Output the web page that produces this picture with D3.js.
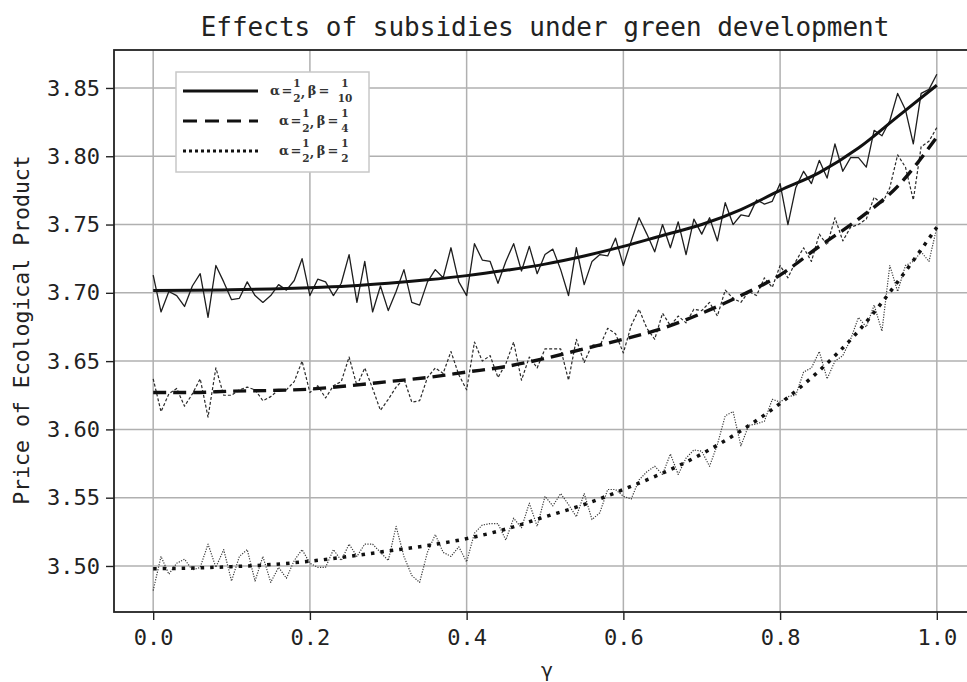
<!DOCTYPE html>
<html>
<head>
<meta charset="utf-8">
<script src="https://cdn.jsdelivr.net/npm/d3@7"></script>
<style>
    body { margin: 0; background: #fff; }
    .axis text { font-family: "DejaVu Sans Mono", monospace; font-size: 22px; fill: #222; }
    .axis line { stroke: #222; stroke-width: 1.4; }
    .axis path { display: none; }
</style>
</head>
<body>
<div id="chart"></div>
<script>
// smooth curves
const gammaSmooth = [0, 0.05, 0.1, 0.15, 0.2, 0.25, 0.3, 0.35, 0.4, 0.45, 0.5,
    0.55, 0.6, 0.65, 0.7, 0.75, 0.8, 0.85, 0.9, 0.95, 1.0];
const smoothB10 = [3.7017, 3.7018, 3.7022, 3.7028, 3.7037, 3.705, 3.707, 3.7095, 3.7126, 3.7165, 3.721,
    3.727, 3.734, 3.742, 3.750, 3.761, 3.775, 3.788, 3.806, 3.829, 3.852];
const smoothB4 = [3.627, 3.627, 3.628, 3.6285, 3.6295, 3.632, 3.635, 3.638, 3.642, 3.646, 3.652,
    3.659, 3.666, 3.674, 3.685, 3.698, 3.713, 3.734, 3.754, 3.778, 3.814];
const smoothB2 = [3.498, 3.4985, 3.4995, 3.501, 3.5035, 3.507, 3.511, 3.515, 3.520, 3.527, 3.536,
    3.545, 3.556, 3.568, 3.582, 3.599, 3.619, 3.643, 3.672, 3.708, 3.748];

// noisy simulations, gamma = 0, 0.01, ... 1.00
const noisyB10 = [3.713, 3.686, 3.701, 3.698, 3.690, 3.705, 3.714, 3.682, 3.720, 3.708,
    3.695, 3.696, 3.708, 3.698, 3.693, 3.698, 3.706, 3.702, 3.709, 3.725,
    3.698, 3.710, 3.708, 3.698, 3.707, 3.728, 3.693, 3.723, 3.686, 3.705,
    3.687, 3.701, 3.717, 3.693, 3.691, 3.708, 3.717, 3.711, 3.733, 3.708,
    3.698, 3.736, 3.724, 3.723, 3.707, 3.723, 3.736, 3.716, 3.734, 3.714,
    3.728, 3.732, 3.717, 3.698, 3.733, 3.706, 3.723, 3.728, 3.727, 3.740,
    3.720, 3.738, 3.755, 3.743, 3.730, 3.750, 3.733, 3.752, 3.728, 3.754,
    3.743, 3.755, 3.738, 3.766, 3.750, 3.757, 3.756, 3.768, 3.765, 3.767,
    3.780, 3.750, 3.777, 3.789, 3.780, 3.797, 3.784, 3.809, 3.789, 3.799,
    3.799, 3.792, 3.819, 3.815, 3.826, 3.846, 3.834, 3.809, 3.846, 3.849,
    3.860];
const noisyB4 = [3.637, 3.613, 3.626, 3.630, 3.617, 3.626, 3.637, 3.609, 3.645, 3.625,
    3.625, 3.629, 3.631, 3.629, 3.621, 3.624, 3.629, 3.629, 3.635, 3.650,
    3.627, 3.632, 3.623, 3.632, 3.635, 3.653, 3.632, 3.645, 3.630, 3.614,
    3.622, 3.631, 3.637, 3.620, 3.621, 3.638, 3.645, 3.641, 3.657, 3.640,
    3.629, 3.664, 3.650, 3.654, 3.638, 3.648, 3.664, 3.636, 3.653, 3.645,
    3.659, 3.659, 3.659, 3.636, 3.666, 3.649, 3.662, 3.661, 3.674, 3.670,
    3.656, 3.676, 3.688, 3.674, 3.666, 3.685, 3.676, 3.683, 3.678, 3.688,
    3.687, 3.693, 3.683, 3.702, 3.696, 3.693, 3.701, 3.698, 3.711, 3.704,
    3.720, 3.711, 3.723, 3.733, 3.723, 3.743, 3.735, 3.755, 3.738, 3.748,
    3.750, 3.754, 3.770, 3.765, 3.777, 3.801, 3.792, 3.768, 3.807, 3.811,
    3.821];
const noisyB2 = [3.482, 3.507, 3.494, 3.502, 3.505, 3.497, 3.499, 3.516, 3.499, 3.512,
    3.489, 3.507, 3.512, 3.489, 3.507, 3.488, 3.499, 3.491, 3.504, 3.512,
    3.502, 3.499, 3.499, 3.512, 3.504, 3.516, 3.507, 3.516, 3.516, 3.510,
    3.504, 3.529, 3.507, 3.493, 3.488, 3.510, 3.523, 3.510, 3.507, 3.514,
    3.503, 3.524, 3.530, 3.531, 3.531, 3.519, 3.535, 3.528, 3.546, 3.529,
    3.551, 3.544, 3.553, 3.545, 3.536, 3.553, 3.534, 3.539, 3.556, 3.556,
    3.551, 3.549, 3.563, 3.569, 3.573, 3.567, 3.582, 3.567, 3.579, 3.585,
    3.584, 3.573, 3.589, 3.610, 3.613, 3.588, 3.603, 3.604, 3.606, 3.622,
    3.620, 3.624, 3.625, 3.642, 3.645, 3.657, 3.637, 3.650, 3.654, 3.666,
    3.682, 3.675, 3.691, 3.672, 3.720, 3.701, 3.720, 3.723, 3.730, 3.723,
    3.748];
const gammaNoisy = d3.range(101).map(i => i / 100);

const xTicks = [0, 0.2, 0.4, 0.6, 0.8, 1.0];
const yTicks = [3.50, 3.55, 3.60, 3.65, 3.70, 3.75, 3.80, 3.85];

const legendRows = [
    {style: 'solid', beta: ['1', '10']},
    {style: 'dashed', beta: ['1', '4']},
    {style: 'dotted', beta: ['1', '2']}
];

const thickStyle = {
    solid: {dash: null, width: 3},
    dashed: {dash: '13,7', width: 3.4},
    dotted: {dash: '3.5,6', width: 3.5}
};
const thinStyle = {
    solid: {dash: null, width: 1.3, color: '#1e1e1e'},
    dashed: {dash: '3,2', width: 1.2, color: '#2a2a2a'},
    dotted: {dash: '1.2,1.4', width: 1.2, color: '#3a3a3a'}
};

const width = 967, height = 682;
const plot = {left: 114, right: 976, top: 50, bottom: 612};

const svg = d3.select('#chart').append('svg')
    .attr('width', width)
    .attr('height', height);

const x = d3.scaleLinear().domain([-0.05, 1.05]).range([plot.left, plot.right]);
const y = d3.scaleLinear().domain([3.4663, 3.8778]).range([plot.bottom, plot.top]);

svg.append('defs').append('clipPath')
    .attr('id', 'clip')
    .append('rect')
    .attr('x', plot.left)
    .attr('y', plot.top)
    .attr('width', plot.right - plot.left)
    .attr('height', plot.bottom - plot.top);

// grid
svg.append('g').selectAll('line.vg')
    .data(xTicks).enter().append('line')
    .attr('x1', d => x(d)).attr('x2', d => x(d))
    .attr('y1', plot.top).attr('y2', plot.bottom)
    .attr('stroke', '#b0b0b0').attr('stroke-width', 1.5);
svg.append('g').selectAll('line.hg')
    .data(yTicks).enter().append('line')
    .attr('x1', plot.left).attr('x2', plot.right)
    .attr('y1', d => y(d)).attr('y2', d => y(d))
    .attr('stroke', '#b0b0b0').attr('stroke-width', 1.5);

// lines
const lines = svg.append('g').attr('clip-path', 'url(#clip)');
const rough = d3.line().x((d, i) => x(gammaNoisy[i])).y(d => y(d));
const smooth = d3.line().x((d, i) => x(gammaSmooth[i])).y(d => y(d)).curve(d3.curveMonotoneX);

const series = [
    {style: 'solid', noisy: noisyB10, fit: smoothB10},
    {style: 'dashed', noisy: noisyB4, fit: smoothB4},
    {style: 'dotted', noisy: noisyB2, fit: smoothB2}
];

series.forEach(function (s) {
    let t = thinStyle[s.style];
    lines.append('path')
        .attr('d', rough(s.noisy))
        .attr('fill', 'none')
        .attr('stroke', t.color)
        .attr('stroke-width', t.width)
        .attr('stroke-dasharray', t.dash)
        .attr('stroke-linejoin', 'round');
});
series.forEach(function (s) {
    let t = thickStyle[s.style];
    lines.append('path')
        .attr('d', smooth(s.fit))
        .attr('fill', 'none')
        .attr('stroke', '#111')
        .attr('stroke-width', t.width)
        .attr('stroke-dasharray', t.dash);
});

// axes
svg.append('g')
    .attr('class', 'axis')
    .attr('transform', 'translate(' + plot.left + ',0)')
    .call(d3.axisLeft(y).tickValues(yTicks).tickSize(8).tickPadding(6).tickFormat(d3.format('.2f')));
svg.append('g')
    .attr('class', 'axis')
    .attr('transform', 'translate(0,' + plot.bottom + ')')
    .call(d3.axisBottom(x).tickValues(xTicks).tickSize(8).tickPadding(9).tickFormat(d3.format('.1f')));

// frame
svg.append('rect')
    .attr('x', plot.left).attr('y', plot.top)
    .attr('width', plot.right - plot.left).attr('height', plot.bottom - plot.top)
    .attr('fill', 'none').attr('stroke', '#222').attr('stroke-width', 1.8);

// title and labels
svg.append('text')
    .attr('x', (plot.left + plot.right) / 2).attr('y', 36)
    .attr('text-anchor', 'middle')
    .style('font-family', '"DejaVu Sans Mono", monospace')
    .style('font-size', '26px')
    .style('fill', '#222')
    .text('Effects of subsidies under green development');

svg.append('text')
    .attr('transform', 'translate(29,330) rotate(-90)')
    .attr('text-anchor', 'middle')
    .style('font-family', '"DejaVu Sans Mono", monospace')
    .style('font-size', '21.5px')
    .style('fill', '#222')
    .text('Price of Ecological Product');

svg.append('text')
    .attr('x', 547).attr('y', 677)
    .attr('text-anchor', 'middle')
    .style('font-family', '"DejaVu Sans", sans-serif')
    .style('font-size', '20px')
    .style('fill', '#222')
    .text('γ');

// legend
const legend = svg.append('g');
legend.append('rect')
    .attr('x', 176).attr('y', 72)
    .attr('width', 193).attr('height', 100)
    .attr('fill', '#fff')
    .attr('stroke', '#c8c8c8').attr('stroke-width', 1.5);

const rowY = [91, 121, 151];
const legendDash = {solid: null, dashed: '14,8', dotted: '3,3'};

legendRows.forEach(function (r, i) {
    let g = legend.append('g').attr('transform', 'translate(0,' + rowY[i] + ')');
    g.append('line')
        .attr('x1', 183).attr('x2', 258)
        .attr('stroke', '#111')
        .attr('stroke-width', r.style === 'dotted' ? 3 : 3.2)
        .attr('stroke-dasharray', legendDash[r.style]);

    let off = i === 0 ? 0 : 9;
    let parts = [
        {s: 'α', x: 275 + off},
        {s: '=', x: 287 + off},
        {f: ['1', '2'], x: 297 + off},
        {s: ',', x: 303 + off, dy: 2},
        {s: 'β', x: 312 + off},
        {s: '=', x: 324 + off},
        {f: r.beta, x: 345}
    ];
    parts.forEach(function (p) {
        let t = g.append('g').attr('transform', 'translate(' + p.x + ',0)')
            .style('font-family', '"DejaVu Serif", serif')
            .style('font-weight', 'bold')
            .style('fill', '#333');
        if (p.s) {
            t.append('text').attr('text-anchor', 'middle').attr('y', 4 + (p.dy || 0))
                .style('font-size', '13px').text(p.s);
        } else {
            t.append('text').attr('text-anchor', 'middle').attr('y', -4)
                .style('font-size', '10.5px').text(p.f[0]);
            t.append('text').attr('text-anchor', 'middle').attr('y', 11)
                .style('font-size', '10.5px').text(p.f[1]);
        }
    });
});
</script>
</body>
</html>
